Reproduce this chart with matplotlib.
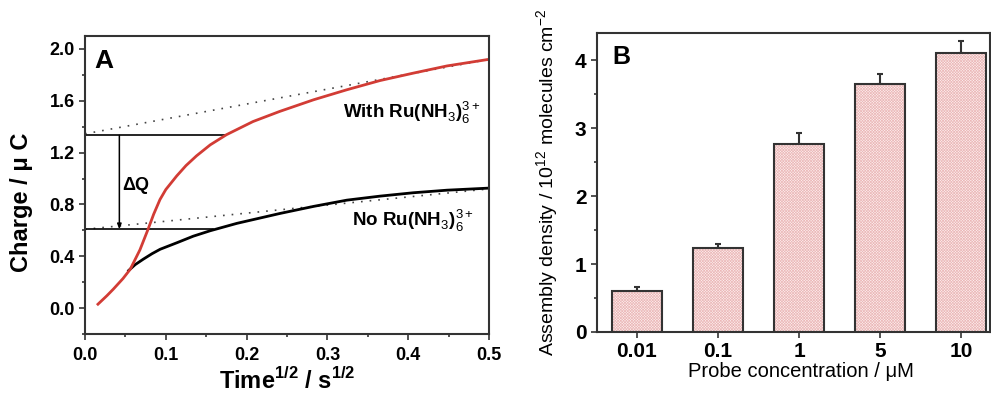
#!/usr/bin/env python3
"""
Chronocoulometry (A) and probe assembly density (B)
"""

import matplotlib
matplotlib.use("Agg")
import matplotlib.pyplot as plt
from matplotlib.ticker import MultipleLocator, FormatStrFormatter

# -----------------------------
# DATA
# -----------------------------
# Panel A: charge vs t^1/2
t_red = [0.016, 0.027, 0.035, 0.047, 0.056, 0.068, 0.078, 0.085, 0.0928, 0.1,
         0.1135, 0.125, 0.138, 0.155, 0.175, 0.208, 0.241, 0.283, 0.324, 0.365,
         0.406, 0.448, 0.5]
q_red = [0.03, 0.095, 0.146, 0.228, 0.30, 0.45, 0.608, 0.725, 0.838, 0.915,
         1.02, 1.10, 1.175, 1.26, 1.338, 1.44, 1.518, 1.608, 1.685, 1.756,
         1.813, 1.869, 1.92]

t_black = [0.054, 0.062, 0.072, 0.083, 0.093, 0.114, 0.134, 0.155, 0.188, 0.241,
           0.283, 0.324, 0.365, 0.406, 0.448, 0.5]
q_black = [0.29, 0.335, 0.377, 0.42, 0.454, 0.505, 0.555, 0.597, 0.654, 0.73,
           0.785, 0.833, 0.864, 0.89, 0.91, 0.926]

# linear extrapolations (intercepts)
fit_t = [0.0, 0.5]
fit_with = [1.345, 1.92]
fit_no = [0.608, 0.92]

q_int_with = 1.333
q_int_no = 0.608
t_end_with = 0.175
t_end_no = 0.158
t_arrow = 0.0425

# Panel B: assembly density
conc_labels = ["0.01", "0.1", "1", "5", "10"]
density = [0.61, 1.23, 2.76, 3.65, 4.10]
density_err = [0.05, 0.07, 0.17, 0.15, 0.18]

# -----------------------------
# STYLE
# -----------------------------
plt.rcParams["font.family"] = ["Liberation Sans", "DejaVu Sans"]
plt.rcParams["mathtext.fontset"] = "custom"
plt.rcParams["mathtext.rm"] = "Liberation Sans"
plt.rcParams["mathtext.bf"] = "Liberation Sans:bold"
plt.rcParams["hatch.linewidth"] = 0.5

EDGE = "#333333"
RED = "#d23c35"

fig = plt.figure(figsize=(9.91, 3.94), dpi=100)
axA = fig.add_axes([0.0858, 0.1523, 0.4076, 0.7563])
axB = fig.add_axes([0.6024, 0.1574, 0.3966, 0.7589])

for ax in (axA, axB):
    for s in ax.spines.values():
        s.set_linewidth(1.5)
        s.set_color(EDGE)
    ax.tick_params(which="both", direction="out", width=1.2, color=EDGE)
    ax.tick_params(which="major", length=4)
    ax.tick_params(which="minor", length=2.5)

# -----------------------------
# PANEL A
# -----------------------------
axA.plot(fit_t, fit_with, linestyle=(0, (1, 4.2)), color="#444444", lw=1.2)
axA.plot(fit_t, fit_no, linestyle=(0, (1, 4.2)), color="#444444", lw=1.2)
axA.plot([0, t_end_with], [q_int_with, q_int_with], color="black", lw=1.2)
axA.plot([0, t_end_no], [q_int_no, q_int_no], color="black", lw=1.2)
axA.annotate("", xy=(t_arrow, q_int_no), xytext=(t_arrow, q_int_with),
             arrowprops=dict(arrowstyle="-|>,head_length=0.3,head_width=0.12",
                             color="black", lw=1.1, shrinkA=0, shrinkB=0))

axA.plot(t_black, q_black, color="black", lw=2)
axA.plot(t_red, q_red, color=RED, lw=2)

axA.text(0.0465, 0.915, "ΔQ", fontsize=13, fontweight="bold")
axA.text(0.319, 1.467, "With Ru(NH$_3$)$_6^{3+}$", fontsize=13.5, fontweight="bold")
axA.text(0.331, 0.633, "No Ru(NH$_3$)$_6^{3+}$", fontsize=13.5, fontweight="bold")
axA.text(0.012, 1.85, "A", fontsize=19, fontweight="bold")

axA.set_xlim(0, 0.5)
axA.set_ylim(-0.2, 2.1)
axA.xaxis.set_major_locator(MultipleLocator(0.1))
axA.xaxis.set_minor_locator(MultipleLocator(0.05))
axA.yaxis.set_major_locator(MultipleLocator(0.4))
axA.yaxis.set_minor_locator(MultipleLocator(0.2))
axA.xaxis.set_major_formatter(FormatStrFormatter("%.1f"))
axA.yaxis.set_major_formatter(FormatStrFormatter("%.1f"))
axA.tick_params(axis="x", which="major", pad=5.5)
for lab in axA.get_xticklabels() + axA.get_yticklabels():
    lab.set_fontsize(13)
    lab.set_fontweight("bold")

axA.set_ylabel("Charge / μ C", fontsize=17, fontweight="bold")
axA.yaxis.set_label_coords(-0.13, 0.443)
axA.set_xlabel("Time$^{\\mathbf{1/2}}$ / s$^{\\mathbf{1/2}}$", fontsize=17, fontweight="bold")
axA.xaxis.set_label_coords(0.5, -0.112)

# -----------------------------
# PANEL B
# -----------------------------
x = range(len(conc_labels))
axB.bar(x, density, width=0.61, color="#fdf0f0", edgecolor="#ebb9b9",
        hatch="xxxxxxxxxxxx", lw=0, zorder=2)
axB.bar(x, density, width=0.61, fill=False, edgecolor=EDGE, lw=1.5, zorder=3)
axB.errorbar(x, density, yerr=[[0] * len(density), density_err], fmt="none",
             ecolor=EDGE, elinewidth=1.5, capsize=2.5, capthick=1.5, zorder=1)

axB.text(-0.3, 3.95, "B", fontsize=18, fontweight="bold")

axB.set_xlim(-0.494, 4.358)
axB.set_ylim(0, 4.4)
axB.set_xticks(list(x))
axB.set_xticklabels(conc_labels)
axB.yaxis.set_major_locator(MultipleLocator(1))
axB.yaxis.set_minor_locator(MultipleLocator(0.5))
for lab in axB.get_xticklabels() + axB.get_yticklabels():
    lab.set_fontsize(15)
    lab.set_fontweight("bold")

axB.set_ylabel("Assembly density / 10$^{12}$ molecules cm$^{-2}$", fontsize=14)
axB.yaxis.set_label_coords(-0.092, 0.5)
axB.set_xlabel("Probe concentration / μM", fontsize=14.5)
axB.xaxis.set_label_coords(0.52, -0.1)

fig.savefig("out.png", dpi=100)
